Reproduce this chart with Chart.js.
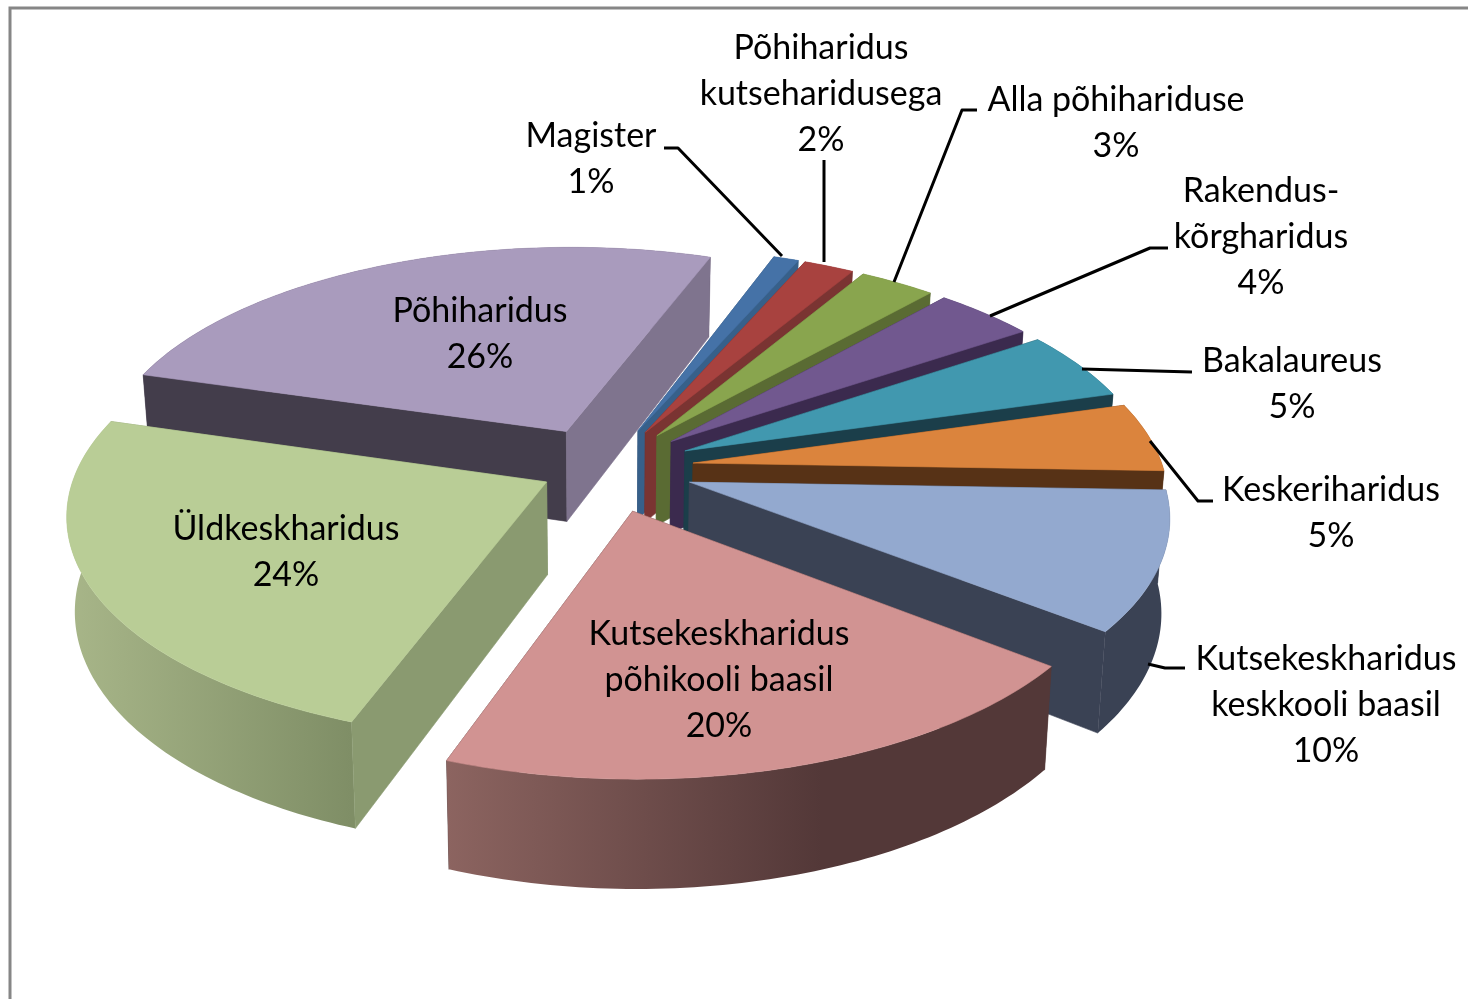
<!DOCTYPE html>
<html><head><meta charset="utf-8">
<style>html,body{margin:0;padding:0;background:#fff}canvas{display:block;filter:blur(0.55px)}</style>
<script src="https://cdn.jsdelivr.net/npm/chart.js@4/dist/chart.umd.min.js"></script>
</head><body><canvas id="c" width="1468" height="999"></canvas>
<script>
const categories=['Magister','Põhiharidus kutseharidusega','Alla põhihariduse','Rakendus-kõrgharidus','Bakalaureus','Keskeriharidus','Kutsekeskharidus keskkooli baasil','Kutsekeskharidus põhikooli baasil','Üldkeskharidus','Põhiharidus'];
const shares=[1,2,3,4,5,5,10,20,24,26];
const labelLines=[['Magister'],['Põhiharidus','kutseharidusega'],['Alla põhihariduse'],['Rakendus-','kõrgharidus'],['Bakalaureus'],['Keskeriharidus'],['Kutsekeskharidus','keskkooli baasil'],['Kutsekeskharidus','põhikooli baasil'],['Üldkeskharidus'],['Põhiharidus']];
const topColors=['#4572a7','#a8423f','#89a54e','#71588f','#4198af','#db843d','#93a9cf','#d19392','#b9cd96','#a99bbd'];
const startWalls=['#2f4d72','#6e2c2a','#5a6b33','#3b2a4e','#1b3e4a','#573216','#3a4254','#533838','#8a9a70','#433d4b'];
const endWalls=['#37608a','#7a3432','#5a6b33','#3b2a4e','#1b3e4a','#573216','#3a4254','#533838','#8a9a70','#7f748e'];
const outerLeft=['#37608a','#7a3432','#5a6b33','#3b2a4e','#1b3e4a','#573216','#3a4254','#8c6460','#a8b689','#433d4b'];
const outerRight=['#37608a','#7a3432','#5a6b33','#3b2a4e','#1b3e4a','#573216','#3a4254','#533838','#7f8e66','#433d4b'];
const explode=[88,88,88,88,88,88,88,94,66,90];
const labelX=[591,821,1116,1261,1292,1331,1326,719,286,480];
const labelY=[136,48,100,191,361,490,659,634,529,311];
const leaders=[[[664,148],[678,148],[782,256]],[[824,160],[824,262]],[[977,110],[962,110],[894,282]],[[1168,248],[1150,248],[990,316]],[[1192,372],[1082,369]],[[1213,501],[1198,501],[1150,441]],[[1185,668],[1165,668],[1148,664]],[],[],[]];
const view={cx:606,cy:468,k:0.465,p:0.00029,depth:92,shrink:0.985};
const FONT='34px Lato, "Open Sans", sans-serif', LINE=46;

function proj(X,Z,low){
  const f=1/(1-view.p*Z);
  return [view.cx+X*f*(low?view.shrink:1), view.cy+(view.k*Z+(low?view.depth:0))*f];
}
function poly(ctx,pts,fill){
  ctx.beginPath();pts.forEach((q,i)=>i?ctx.lineTo(q[0],q[1]):ctx.moveTo(q[0],q[1]));ctx.closePath();
  ctx.fillStyle=fill;ctx.strokeStyle=typeof fill==='string'?fill:'rgba(0,0,0,0)';ctx.lineWidth=0.6;ctx.fill();ctx.stroke();
}
function drawSlice(ctx,el,i){
  const a=el.startAngle,b=el.endAngle,m=(a+b)/2,e=explode[i],R=el.outerRadius;
  const ax=e*Math.cos(m),az=e*Math.sin(m);
  const n=Math.max(6,Math.ceil((b-a)*180/Math.PI));
  const up=[],lo=[];
  for(let t=0;t<=n;t++){
    const g=a+(b-a)*t/n,X=ax+R*Math.cos(g),Z=az+R*Math.sin(g);
    up.push(proj(X,Z,false));lo.push(proj(X,Z,true));
  }
  const A=proj(ax,az,false),Al=proj(ax,az,true);
  const startSide=[A,up[0],lo[0],Al],endSide=[A,up[n],lo[n],Al];
  const startVisible=-Math.cos(a)>0,endVisible=Math.cos(b)>0;
  if(!startVisible)poly(ctx,startSide,startWalls[i]);
  if(!endVisible)poly(ctx,endSide,endWalls[i]);
  const xs=up.map(q=>q[0]);
  const grad=ctx.createLinearGradient(Math.min(...xs),0,Math.max(...xs),0);
  grad.addColorStop(0,outerLeft[i]);grad.addColorStop(i===7?0.62:1,outerRight[i]);grad.addColorStop(1,outerRight[i]);
  poly(ctx,up.concat(lo.slice().reverse()),grad);
  if(startVisible)poly(ctx,startSide,startWalls[i]);
  if(endVisible)poly(ctx,endSide,endWalls[i]);
  poly(ctx,[A].concat(up),topColors[i]);
}
const pie3d={
  id:'pie3d',
  beforeDraw(chart){
    const ctx=chart.ctx;ctx.save();
    ctx.fillStyle='#fff';ctx.fillRect(0,0,chart.width,chart.height);
    ctx.strokeStyle='#868686';ctx.lineWidth=3;
    ctx.beginPath();ctx.moveTo(10,chart.height);ctx.lineTo(10,8);ctx.lineTo(chart.width,8);ctx.stroke();
    ctx.restore();
  },
  beforeDatasetDraw(chart,args){
    const ctx=chart.ctx,arcs=args.meta.data;
    const order=arcs.map((el,i)=>i).sort((u,v)=>{
      const zz=j=>explode[j]*Math.sin((arcs[j].startAngle+arcs[j].endAngle)/2);
      return zz(u)-zz(v);
    });
    ctx.save();
    order.forEach(i=>drawSlice(ctx,arcs[i],i));
    ctx.strokeStyle='#000';ctx.lineWidth=3;ctx.lineJoin='round';
    leaders.forEach(l=>{if(!l.length)return;ctx.beginPath();l.forEach((q,j)=>j?ctx.lineTo(q[0],q[1]):ctx.moveTo(q[0],q[1]));ctx.stroke();});
    ctx.fillStyle='#000';ctx.font=FONT;ctx.textAlign='center';ctx.textBaseline='middle';
    shares.forEach((v,i)=>{
      const lines=labelLines[i].concat([v+'%']);
      lines.forEach((s,j)=>ctx.fillText(s,labelX[i],labelY[i]+j*LINE));
    });
    ctx.restore();
    return false;
  }
};
new Chart(document.getElementById('c'),{
  type:'pie',
  data:{labels:categories,datasets:[{data:shares,backgroundColor:topColors,borderWidth:0}]},
  options:{responsive:false,animation:false,rotation:20,radius:470,layout:{padding:0},
    plugins:{legend:{display:false},tooltip:{enabled:false}},events:[]},
  plugins:[pie3d]
});
</script></body></html>
